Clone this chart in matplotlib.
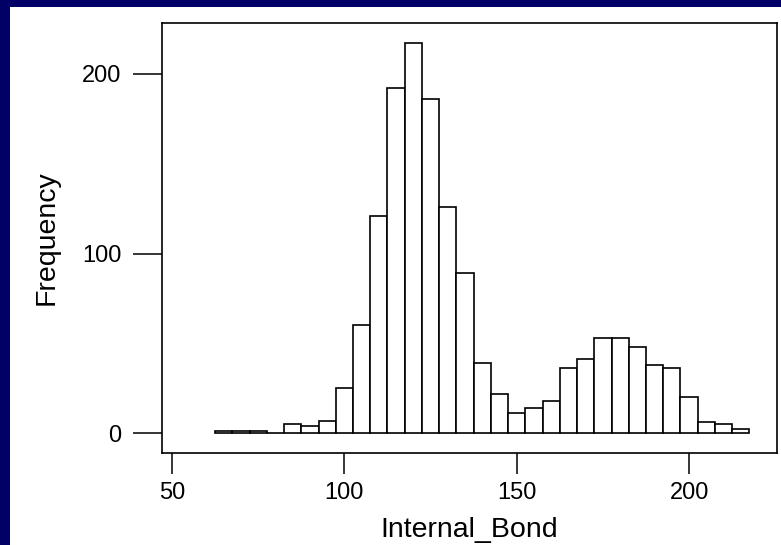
import numpy as np
import matplotlib.pyplot as plt
from matplotlib.patches import Rectangle

# histogram of Internal_Bond, bins of width 5 centred on multiples of 5
bin_centers = list(range(65, 220, 5))
counts = [1, 1, 1, 0, 5, 4, 7, 25, 60, 121, 192, 217, 186, 126, 89, 39,
          22, 11, 14, 18, 36, 41, 53, 53, 48, 38, 36, 20, 6, 5, 2]
x_ticks = [50, 100, 150, 200]
y_ticks = [0, 100, 200]

plt.rcParams['font.family'] = ['Liberation Sans', 'DejaVu Sans']

fig = plt.figure(figsize=(7.81, 5.45), dpi=100)
fig.patch.set_facecolor('#000066')
# white slide area (navy strip only on top and left)
fig.patches.append(Rectangle((10 / 781, 0), 1, 1 - 7 / 545, transform=fig.transFigure,
                             facecolor='white', edgecolor='none', zorder=-5))

ax = fig.add_axes([162 / 781, 1 - 453 / 545, 615 / 781, 430 / 545])
ax.set_zorder(1)
ax.bar(bin_centers, counts, width=5, color='white', edgecolor='black', linewidth=1.2)

ax.set_xlim(47.1, 225.5)
ax.set_ylim(-11.1, 228.4)
ax.set_xticks(x_ticks)
ax.set_yticks(y_ticks)
ax.tick_params(axis='x', length=15, width=1.1, pad=6, labelsize=17)
ax.tick_params(axis='y', length=21, width=1.1, pad=8, labelsize=17)
for s in ax.spines.values():
    s.set_linewidth(1.2)

ax.set_xlabel('Internal_Bond', fontsize=20.5, labelpad=9)
ax.set_ylabel('Frequency', fontsize=20.5, labelpad=16)

fig.savefig('out.png', dpi=100, facecolor=fig.get_facecolor())
